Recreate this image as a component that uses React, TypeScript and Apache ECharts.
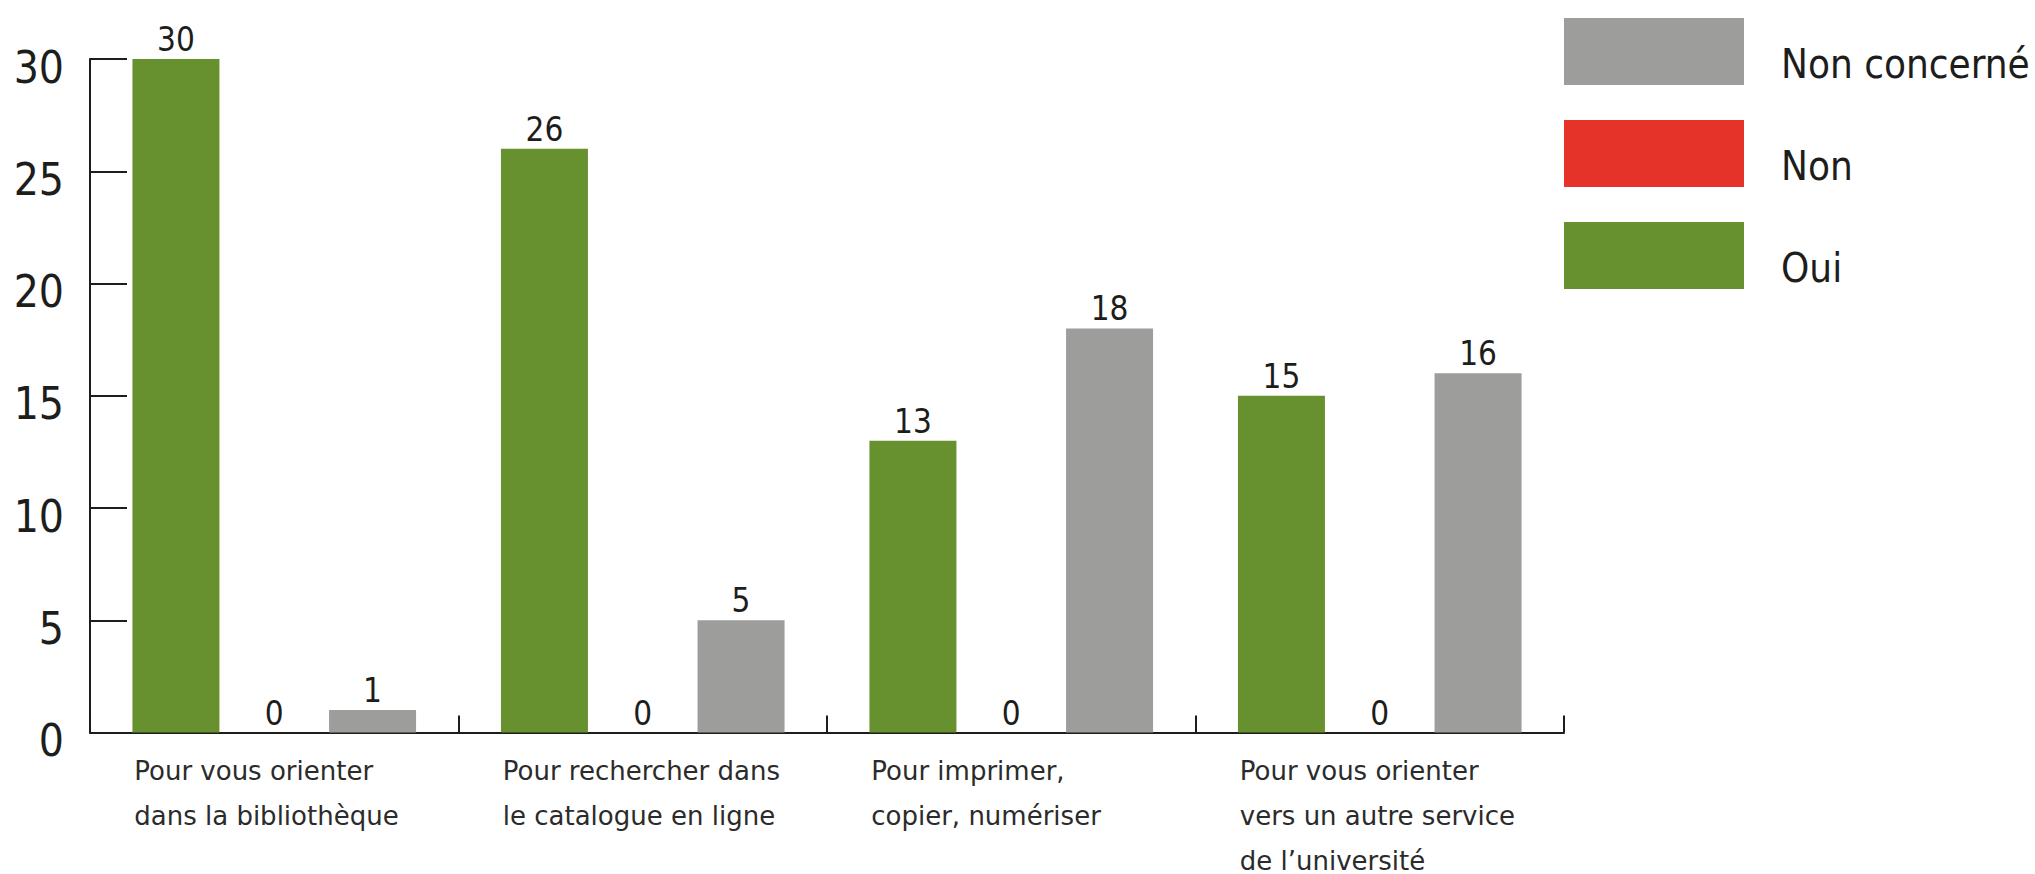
import React, { useEffect, useRef } from "react";
import * as echarts from "echarts";

const categories = [
  "Pour vous orienter\ndans la bibliothèque",
  "Pour rechercher dans\nle catalogue en ligne",
  "Pour imprimer,\ncopier, numériser",
  "Pour vous orienter\nvers un autre service\nde l’université",
];
const seriesNames = ["Oui", "Non", "Non concerné"];
const ouiValues = [30, 26, 13, 15];
const nonValues = [0, 0, 0, 0];
const nonConcerneValues = [1, 5, 18, 16];
const colors = ["#67912f", "#e5332a", "#9d9d9c"];
const legendOrder = ["Non concerné", "Non", "Oui"];

const FONT = "DejaVu Sans";
const FONT_C = "DejaVu Sans Condensed";

export default function App() {
  const ref = useRef<HTMLDivElement>(null);
  useEffect(() => {
    if (!ref.current) return;
    const chart = echarts.init(ref.current, null, { renderer: "svg" });
    const values = [ouiValues, nonValues, nonConcerneValues];
    const series = seriesNames.map((name, i) => ({
      name,
      type: "bar",
      data: values[i],
      barWidth: 87,
      barGap: "13%",
      itemStyle: { color: colors[i] },
      label: {
        show: true,
        position: "top",
        distance: 3,
        color: "#1d1d1b",
        fontFamily: FONT_C,
        fontSize: 33,
      },
    }));
    chart.setOption({
      animation: false,
      textStyle: { fontFamily: FONT },
      grid: { left: 90, top: 59, right: 471, bottom: 138, containLabel: false },
      legend: {
        data: legendOrder,
        orient: "vertical",
        left: 1564,
        top: 18,
        padding: 0,
        itemWidth: 180,
        itemHeight: 67,
        itemGap: 35,
        icon: "rect",
        selectedMode: false,
        formatter: (n: string) => `{t|${n}}`,
        textStyle: {
          fontFamily: FONT_C,
          fontSize: 40,
          color: "#1d1d1b",
          rich: {
            t: {
              fontFamily: FONT_C,
              fontSize: 40,
              lineHeight: 42,
              color: "#1d1d1b",
              padding: [24, 0, 0, 32],
            },
          },
        },
      },
      xAxis: {
        type: "category",
        data: categories,
        axisLine: { lineStyle: { color: "#1d1d1b", width: 2 } },
        axisTick: { show: true, inside: true, length: 17, lineStyle: { color: "#1d1d1b", width: 2 } },
        axisLabel: {
          interval: 0,
          margin: 16,
          formatter: (v: string) =>
            v
              .split("\n")
              .map((l) => `{a|${l}}`)
              .join("\n"),
          rich: {
            a: {
              width: 280,
              align: "left",
              fontFamily: FONT,
              fontSize: 26,
              lineHeight: 45,
              color: "#2b2b2b",
            },
          },
        },
      },
      yAxis: {
        type: "value",
        min: 0,
        max: 30,
        interval: 5,
        axisLine: { show: true, lineStyle: { color: "#1d1d1b", width: 2 } },
        axisTick: { show: true, inside: true, length: 37, lineStyle: { color: "#1d1d1b", width: 2 } },
        splitLine: { show: false },
        axisLabel: {
          margin: 26,
          formatter: "{v|{value}}",
          rich: {
            v: {
              fontFamily: FONT_C,
              fontSize: 44,
              lineHeight: 48,
              color: "#1d1d1b",
              padding: [16, 0, 0, 0],
            },
          },
        },
      },
      series,
    });
    return () => chart.dispose();
  }, []);
  return (
    <div
      ref={ref}
      style={{ position: "fixed", left: 0, top: 0, width: 2035, height: 874, background: "#fff" }}
    />
  );
}
